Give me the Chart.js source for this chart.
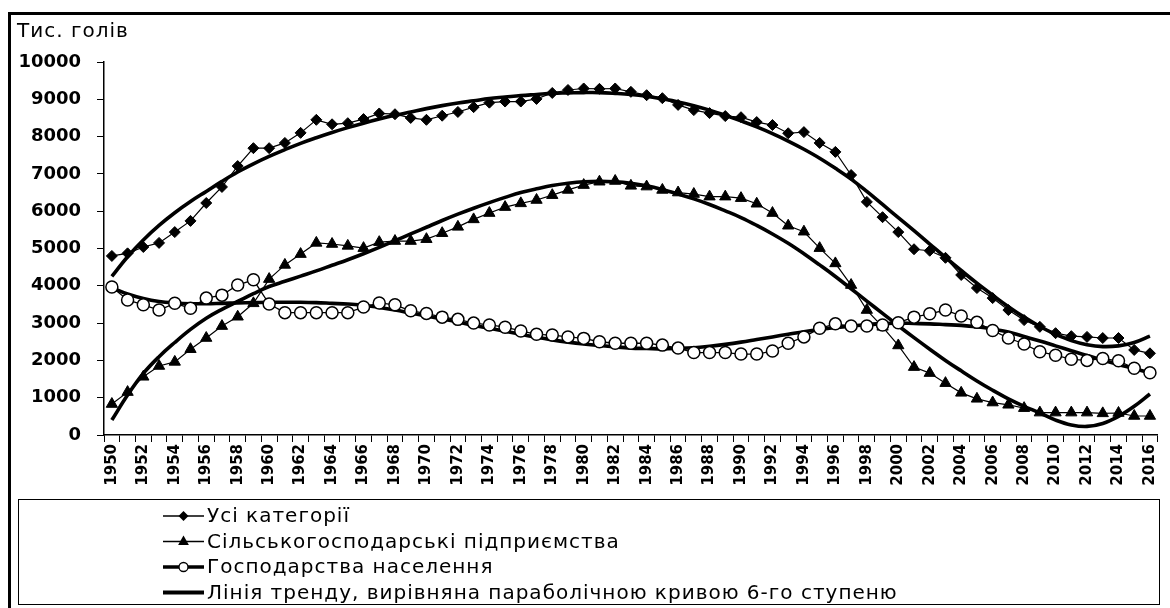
<!DOCTYPE html>
<html>
<head>
<meta charset="utf-8">
<script src="https://cdn.jsdelivr.net/npm/chart.js@4.4.1/dist/chart.umd.min.js"></script>
<style>
html,body{margin:0;padding:0;background:#fff;overflow:hidden;}
#wrap{position:relative;width:1170px;height:608px;}
canvas{display:block;}
</style>
</head>
<body>
<div id="wrap"><canvas id="c" width="1170" height="608"></canvas></div>
<script>
// ---------- DATA ----------
const years = ["1950","1951","1952","1953","1954","1955","1956","1957","1958","1959",
"1960","1961","1962","1963","1964","1965","1966","1967","1968","1969",
"1970","1971","1972","1973","1974","1975","1976","1977","1978","1979",
"1980","1981","1982","1983","1984","1985","1986","1987","1988","1989",
"1990","1991","1992","1993","1994","1995","1996","1997","1998","1999",
"2000","2001","2002","2003","2004","2005","2006","2007","2008","2009",
"2010","2011","2012","2013","2014","2015","2016"];

const allCategories = [4800,4870,5040,5150,5440,5740,6220,6650,7210,7690,
7690,7830,8100,8450,8330,8360,8470,8620,8600,8500,
8450,8560,8660,8790,8910,8940,8940,9010,9170,9250,
9290,9280,9290,9200,9110,9030,8850,8710,8630,8550,
8520,8390,8310,8090,8120,7830,7590,6970,6250,5840,
5440,4980,4940,4750,4290,3940,3670,3350,3080,2900,
2730,2650,2630,2600,2600,2280,2190];

const agriEnterprises = [830,1150,1560,1850,1960,2300,2600,2920,3170,3530,
4180,4560,4850,5150,5120,5070,5010,5170,5200,5200,
5250,5410,5580,5780,5950,6110,6210,6300,6430,6570,
6700,6790,6810,6680,6660,6570,6500,6460,6390,6390,
6350,6200,5950,5610,5450,5010,4600,4020,3350,2900,
2400,1820,1660,1390,1130,970,870,810,720,600,
600,600,600,580,590,510,510];

const households = [3970,3620,3490,3350,3530,3400,3670,3750,4020,4160,
3510,3280,3280,3280,3280,3280,3430,3540,3490,3330,
3260,3160,3100,3000,2950,2890,2790,2700,2680,2630,
2590,2500,2460,2460,2460,2410,2330,2210,2210,2210,
2170,2170,2250,2460,2630,2860,2980,2920,2920,2950,
3010,3160,3250,3350,3190,3020,2800,2600,2440,2230,
2140,2030,2000,2050,1990,1790,1670];

const trendAll = [4250,4780,5230,5620,5960,6260,6530,6800,7050,7270,
7470,7650,7820,7970,8110,8240,8360,8470,8570,8660,
8750,8830,8900,8960,9020,9060,9100,9130,9160,9170,
9180,9180,9160,9130,9080,9010,8930,8830,8710,8570,
8420,8260,8080,7880,7660,7420,7150,6860,6530,6180,
5830,5480,5120,4760,4410,4070,3750,3440,3160,2910,
2700,2530,2420,2370,2390,2480,2650];

const trendAgri = [400,1070,1650,2100,2480,2830,3130,3370,3580,3790,
3980,4120,4260,4400,4550,4700,4860,5030,5210,5390,
5570,5750,5920,6080,6230,6370,6500,6600,6690,6750,
6790,6800,6790,6750,6680,6580,6460,6330,6180,6010,
5830,5620,5390,5140,4860,4560,4250,3920,3590,3260,
2930,2610,2300,2000,1720,1450,1200,970,770,590,
400,270,230,310,500,770,1100];

const trendHouse = [3950,3780,3660,3580,3540,3520,3520,3530,3540,3550,
3560,3560,3560,3550,3530,3510,3480,3420,3350,3270,
3190,3110,3030,2940,2860,2780,2700,2620,2550,2490,
2440,2400,2360,2330,2320,2310,2320,2340,2380,2430,
2490,2560,2630,2700,2770,2830,2880,2920,2960,2990,
3000,2990,2980,2960,2940,2900,2840,2760,2640,2520,
2390,2260,2130,2010,1890,1780,1670];

const legendLabels = ["Усі категорії","Сільськогосподарські підприємства","Господарства населення","Лінія тренду, вирівняна параболічною кривою 6-го ступеню"];
const yAxisTitle = "Тис. голів";
const yMin = 0, yMax = 10000, yStep = 1000;

// ---------- CHART ----------
const FONT = "'DejaVu Sans', 'Liberation Sans', sans-serif";

function drawMarker(ctx, type, x, y, r){
  ctx.save();
  ctx.lineWidth = 1.3;
  ctx.strokeStyle = '#000';
  ctx.fillStyle = '#000';
  ctx.beginPath();
  if (type === 'diamond'){
    ctx.moveTo(x, y - r); ctx.lineTo(x + r, y); ctx.lineTo(x, y + r); ctx.lineTo(x - r, y); ctx.closePath();
    ctx.fill();
  } else if (type === 'triangle'){
    ctx.moveTo(x, y - r); ctx.lineTo(x + r*0.9, y + r*0.6); ctx.lineTo(x - r*0.9, y + r*0.6); ctx.closePath();
    ctx.fill();
  } else if (type === 'circle'){
    ctx.arc(x, y, r, 0, Math.PI*2);
    ctx.fillStyle = '#fff';
    ctx.fill();
    ctx.stroke();
  }
  ctx.restore();
}

const decorPlugin = {
  id: 'decor',
  afterDraw(chart){
    const ctx = chart.ctx;
    ctx.save();
    // outer frame
    ctx.fillStyle = '#000';
    ctx.fillRect(8, 12, 3, 596);
    ctx.fillRect(8, 12, 1162, 3);
    // unit label
    ctx.font = "20px " + FONT;
    ctx.textBaseline = 'alphabetic';
    ctx.textAlign = 'left';
    if ('letterSpacing' in ctx) ctx.letterSpacing = '1px';
    ctx.fillText(yAxisTitle, 17, 37);
    // legend box
    ctx.lineWidth = 1;
    ctx.strokeStyle = '#000';
    ctx.strokeRect(18.5, 499.5, 1141, 105);
    const rows = [516, 541.5, 567, 592.5];
    const kinds = [
      {m:'diamond', r:5, lw:1.5},
      {m:'triangle', r:6, lw:1.5},
      {m:'circle', r:4.5, lw:3.5},
      {m:null, r:0, lw:4}
    ];
    ctx.font = "20px " + FONT;
    ctx.textBaseline = 'middle';
    rows.forEach((y, i) => {
      const k = kinds[i];
      ctx.beginPath();
      ctx.lineWidth = k.lw;
      ctx.moveTo(163, y); ctx.lineTo(204, y);
      ctx.stroke();
      if (k.m) drawMarker(ctx, k.m, 183.5, y, k.r);
      ctx.fillStyle = '#000';
      ctx.fillText(legendLabels[i], 207, y + 1);
    });
    if ('letterSpacing' in ctx) ctx.letterSpacing = '0px';
    ctx.restore();
  }
};

const ctx = document.getElementById('c').getContext('2d');
new Chart(ctx, {
  type: 'line',
  data: {
    labels: years,
    datasets: [
      {label: legendLabels[3], data: trendAll, borderColor:'#000', borderWidth:3.6, pointRadius:0, tension:0.4, order:2, fill:false},
      {label: legendLabels[3], data: trendAgri, borderColor:'#000', borderWidth:3.6, pointRadius:0, tension:0.4, order:2, fill:false},
      {label: legendLabels[3], data: trendHouse, borderColor:'#000', borderWidth:3.6, pointRadius:0, tension:0.4, order:2, fill:false},
      {label: legendLabels[0], data: allCategories, borderColor:'#000', borderWidth:1.2, tension:0,
        pointStyle:'rectRot', pointRadius:5.5, pointBackgroundColor:'#000', pointBorderColor:'#000', pointBorderWidth:1, order:1, fill:false},
      {label: legendLabels[1], data: agriEnterprises, borderColor:'#000', borderWidth:1.2, tension:0,
        pointStyle:'triangle', pointRadius:6.5, pointBackgroundColor:'#000', pointBorderColor:'#000', pointBorderWidth:1, order:1, fill:false},
      {label: legendLabels[2], data: households, borderColor:'#000', borderWidth:1.3, tension:0,
        pointStyle:'circle', pointRadius:6, pointBackgroundColor:'#fff', pointBorderColor:'#000', pointBorderWidth:1.5, order:0, fill:false}
    ]
  },
  options: {
    responsive: false,
    animation: false,
    devicePixelRatio: 1,
    layout: {padding: {left: 0, top: 62, right: 5, bottom: 113}},
    plugins: {legend: {display: false}, tooltip: {enabled: false}, title: {display: false}},
    scales: {
      x: {
        type: 'category',
        offset: true,
        afterFit: (s) => { s.height = 60; },
        grid: {display: true, drawOnChartArea: false, drawTicks: true, tickLength: 7, color: '#000', lineWidth: 1, offset: true},
        border: {display: true, color: '#000', width: 1.5},
        ticks: {
          autoSkip: false, maxRotation: 90, minRotation: 90, padding: 2, color: '#000',
          font: {family: FONT, size: 15, weight: 'bold'},
          callback: (v, i) => (i % 2 === 0 ? years[i] : '')
        }
      },
      y: {
        min: yMin, max: yMax,
        afterFit: (s) => { s.width = 104; },
        grid: {display: true, drawOnChartArea: false, drawTicks: true, tickLength: 7, color: '#000', lineWidth: 1},
        border: {display: true, color: '#000', width: 1.5},
        ticks: {stepSize: yStep, padding: 16, color: '#000', font: {family: FONT, size: 18, weight: 'bold'},
          callback: (v) => String(v)}
      }
    }
  },
  plugins: [decorPlugin]
});
</script>
</body>
</html>
